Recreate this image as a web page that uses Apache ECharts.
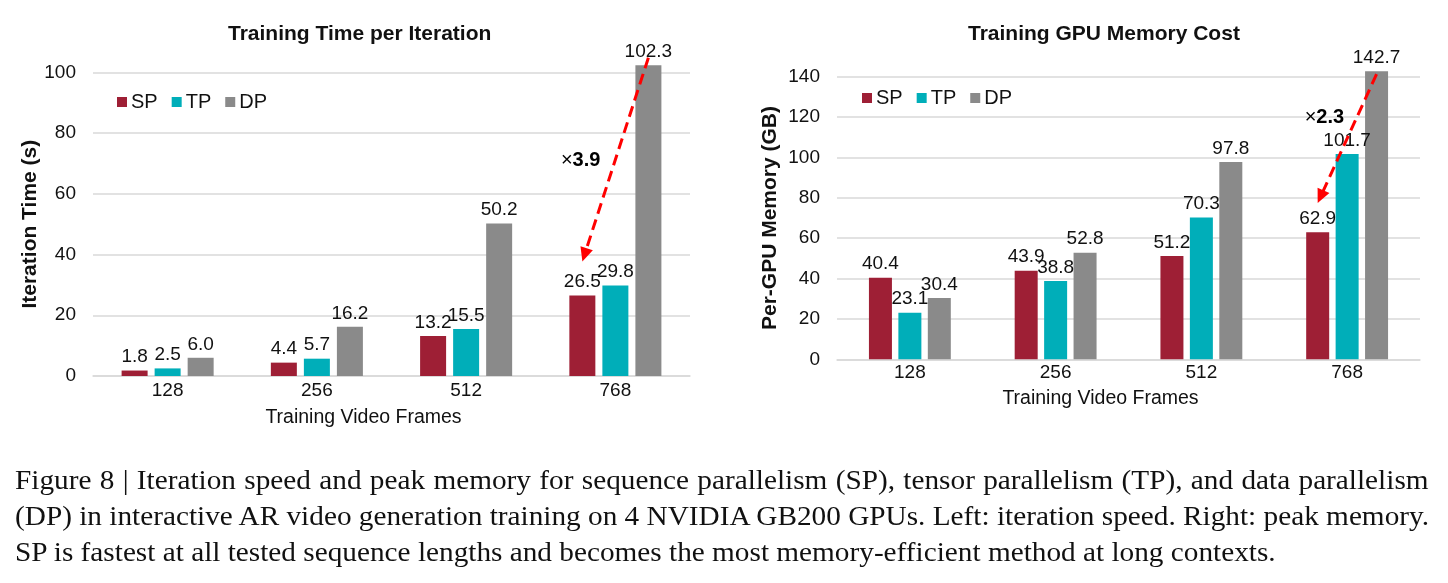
<!DOCTYPE html>
<html>
<head>
<meta charset="utf-8">
<script src="https://cdn.jsdelivr.net/npm/echarts@6/dist/echarts.min.js"></script>
<style>
    html, body { margin: 0; padding: 0; background: #fff; }
    #chart { width: 1448px; height: 583px; }
    #caption {
        position: absolute; left: 15px; top: 462px; width: 1304px;
        font: 27px/36px "Liberation Serif", "Times New Roman", serif;
        color: #111; transform: scaleX(1.084); transform-origin: 0 0;
    }
    #caption div { white-space: nowrap; }
    #caption .full { text-align: justify; text-align-last: justify; }
</style>
</head>
<body>
<div id="chart"></div>
<div id="caption">
    <div class="full">Figure 8 | Iteration speed and peak memory for sequence parallelism (SP), tensor parallelism (TP), and data parallelism</div>
    <div class="full">(DP) in interactive AR video generation training on 4 NVIDIA GB200 GPUs. Left: iteration speed. Right: peak memory.</div>
    <div>SP is fastest at all tested sequence lengths and becomes the most memory-efficient method at long contexts.</div>
</div>
<script>
// data
const frames = ['128', '256', '512', '768']
const methods = ['SP', 'TP', 'DP']
const timeSP = [1.8, 4.4, 13.2, 26.5]
const timeTP = [2.5, 5.7, 15.5, 29.8]
const timeDP = [6.0, 16.2, 50.2, 102.3]
const memSP = [40.4, 43.9, 51.2, 62.9]
const memTP = [23.1, 38.8, 70.3, 101.7]
const memDP = [30.4, 52.8, 97.8, 142.7]
const timeTicks = { max: 100, interval: 20 }
const memTicks = { max: 140, interval: 20 }
// speed-up annotations: arrow from DP value down to SP value at the 768 group
const timeArrow = { from: 104.8, to: 37.7, label: '3.9', labelY: 71, labelDx: -15 }
const memArrow = { from: 141.3, to: 77.4, label: '2.3', labelY: 120, labelDx: -3 }

const colors = ['#9E1F35', '#00AEB9', '#8A8A8A']
const font = '"Liberation Sans", Arial, sans-serif'
const txt = '#111'

const chart = echarts.init(document.getElementById('chart'))

const panels = [
    { title: 'Training Time per Iteration', titleLeft: 228, yName: 'Iteration Time (s)', nameGap: 52,
      ticks: timeTicks, data: [timeSP, timeTP, timeDP], barWidth: 26, barGap: 0.27,
      grid: { left: 93, right: 758, top: 72.3, bottom: 207 }, legendLeft: 117, legendTop: 92,
      labelMargin: 5, xNameGap: 32, arrow: timeArrow },
    { title: 'Training GPU Memory Cost', titleLeft: 968, yName: 'Per-GPU Memory (GB)', nameGap: 56,
      ticks: memTicks, data: [memSP, memTP, memDP], barWidth: 23, barGap: 0.28,
      grid: { left: 837, right: 28, top: 76.7, bottom: 223.7 }, legendLeft: 862, legendTop: 88,
      labelMargin: 4, xNameGap: 29, arrow: memArrow },
]

const option = {
    backgroundColor: '#fff',
    animation: false,
    textStyle: { fontFamily: font },
    title: panels.map(p => ({
        text: p.title, left: p.titleLeft, top: 24, padding: 0,
        textStyle: { fontSize: 21, fontWeight: 'bold', color: txt, fontFamily: font },
    })),
    legend: panels.map(p => ({
        data: methods, left: p.legendLeft, top: p.legendTop, padding: 0,
        icon: 'rect', itemWidth: 10, itemHeight: 10, itemGap: 14,
        textStyle: { fontSize: 20, color: txt, fontFamily: font, padding: [0, 0, 0, -1] },
    })),
    grid: panels.map(p => p.grid),
    xAxis: panels.map((p, i) => ({
        type: 'category', gridIndex: i, data: frames,
        name: 'Training Video Frames', nameLocation: 'middle', nameGap: p.xNameGap,
        nameTextStyle: { fontSize: 19.5, color: txt, padding: [0, 56, 0, 0] },
        axisLine: { lineStyle: { color: '#D9D9D9', width: 1.5 } },
        axisTick: { show: false },
        axisLabel: { fontSize: 19, color: txt, margin: p.labelMargin },
    })),
    yAxis: panels.map((p, i) => ({
        type: 'value', gridIndex: i, min: 0, max: p.ticks.max, interval: p.ticks.interval,
        name: p.yName, nameLocation: 'middle', nameRotate: 90, nameGap: p.nameGap,
        nameTextStyle: { fontSize: 21, fontWeight: 'bold', color: txt },
        axisLine: { show: false }, axisTick: { show: false },
        splitLine: { lineStyle: { color: '#D9D9D9', width: 1.5 } },
        axisLabel: { fontSize: 19, color: txt, margin: 17 },
    })),
    series: panels.flatMap((p, i) => methods.map((m, k) => ({
        name: m, type: 'bar', xAxisIndex: i, yAxisIndex: i,
        data: p.data[k], barWidth: p.barWidth, barGap: (p.barGap * 100) + '%',
        clip: false,
        itemStyle: { color: colors[k] },
        label: {
            show: true, position: 'top', distance: 4, fontSize: 19, color: txt,
            formatter: v => v.value.toFixed(1),
        },
    }))),
}
chart.setOption(option)

// arrows and "x" labels placed through the axes
const graphics = []
panels.forEach((p, i) => {
    const a = p.arrow
    const off = p.barWidth * (1 + p.barGap)
    const cat = frames.length - 1
    const s = chart.convertToPixel({ gridIndex: i }, [cat, a.from])
    const e = chart.convertToPixel({ gridIndex: i }, [cat, a.to])
    const p0 = [s[0] + off, s[1]]
    const p1 = [e[0] - off, e[1]]
    const len = Math.hypot(p1[0] - p0[0], p1[1] - p0[1])
    const d = [(p1[0] - p0[0]) / len, (p1[1] - p0[1]) / len]
    const n = [-d[1], d[0]]
    const head = 14, half = 6.5
    graphics.push({
        type: 'line', z: 100,
        shape: { x1: p0[0], y1: p0[1], x2: p1[0] - d[0] * (head - 2), y2: p1[1] - d[1] * (head - 2) },
        style: { stroke: '#FF0000', lineWidth: 3, lineDash: [11, 6] },
    })
    graphics.push({
        type: 'polygon', z: 100,
        shape: { points: [
            p1,
            [p1[0] - d[0] * head + n[0] * half, p1[1] - d[1] * head + n[1] * half],
            [p1[0] - d[0] * head - n[0] * half, p1[1] - d[1] * head - n[1] * half],
        ] },
        style: { fill: '#FF0000' },
    })
    const t = chart.convertToPixel({ gridIndex: i }, [cat, a.labelY])
    graphics.push({
        type: 'text', z: 100, x: t[0] + a.labelDx, y: t[1],
        style: {
            text: '{x|×}{n|' + a.label + '}', align: 'right', verticalAlign: 'middle',
            rich: {
                x: { fontSize: 20, color: '#FF0000', fontFamily: font },
                n: { fontSize: 20, fontWeight: 'bold', color: '#FF0000', fontFamily: font },
            },
        },
    })
})
chart.setOption({ graphic: graphics })
</script>
</body>
</html>
